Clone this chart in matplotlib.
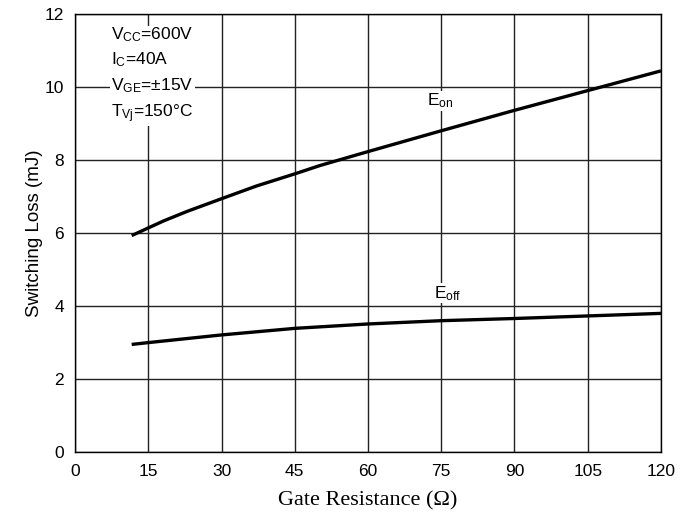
import matplotlib
matplotlib.use("Agg")
import matplotlib.pyplot as plt

plt.rcParams['font.family'] = ['Liberation Sans', 'DejaVu Sans']
plt.rcParams['mathtext.fontset'] = 'custom'
plt.rcParams['mathtext.rm'] = 'Liberation Sans'
plt.rcParams['mathtext.it'] = 'Liberation Sans'

rg_on = [11.6, 15, 18.1, 22.9, 30, 37.2, 45, 50.2, 60, 75, 90, 105, 120]
eon = [5.93, 6.14, 6.33, 6.59, 6.94, 7.29, 7.62, 7.85, 8.23, 8.8, 9.36, 9.9, 10.44]
rg_off = [11.6, 15, 30, 45, 60, 75, 90, 105, 120]
eoff = [2.95, 3.0, 3.21, 3.39, 3.51, 3.60, 3.66, 3.73, 3.80]
xticks = [0, 15, 30, 45, 60, 75, 90, 105, 120]
yticks = [0, 2, 4, 6, 8, 10, 12]

fig = plt.figure(figsize=(6.95, 5.15), dpi=100)
ax = fig.add_axes([0.108, 0.122, 0.843, 0.851])
ax.plot(rg_on, eon, color='black', lw=2.4, zorder=3, solid_capstyle='butt')
ax.plot(rg_off, eoff, color='black', lw=2.4, zorder=3, solid_capstyle='butt')
ax.set_xlim(0, 120)
ax.set_ylim(0, 12)
ax.set_xticks(xticks)
ax.set_yticks(yticks)
ax.grid(True, color='#222222', lw=1.0)
ax.tick_params(axis='x', length=0, labelsize=12.5, pad=8.5)
ax.tick_params(axis='y', length=0, labelsize=12.5, pad=8)
for s in ax.spines.values():
    s.set_linewidth(1.0)
ax.set_ylabel('Switching Loss (mJ)', fontsize=13.5, labelpad=1)
ax.set_xlabel('Gate Resistance (Ω)', fontsize=16, family=['Liberation Serif', 'DejaVu Serif'], labelpad=9)

ax.text(72.0, 9.62, r'E$_{\mathrm{on}}$', fontsize=12.5, ha='left', va='center', zorder=4,
        bbox=dict(facecolor='white', edgecolor='none', pad=0.5))
ax.text(73.5, 4.35, r'E$_{\mathrm{off}}$', fontsize=12.5, ha='left', va='center', zorder=4,
        bbox=dict(facecolor='white', edgecolor='none', pad=0.5))

cond = r'V$_{\mathrm{CC}}$=600V' + '\n' + r'I$_{\mathrm{C}}$=40A' + '\n' + r'V$_{\mathrm{GE}}$=±15V' + '\n' + r'T$_{\mathrm{Vj}}$=150°C'
ax.text(7.4, 11.7, cond, fontsize=12.5, ha='left', va='top', linespacing=1.5,
        bbox=dict(facecolor='white', edgecolor='none', pad=1), zorder=4)

fig.savefig('out.png', dpi=100)
